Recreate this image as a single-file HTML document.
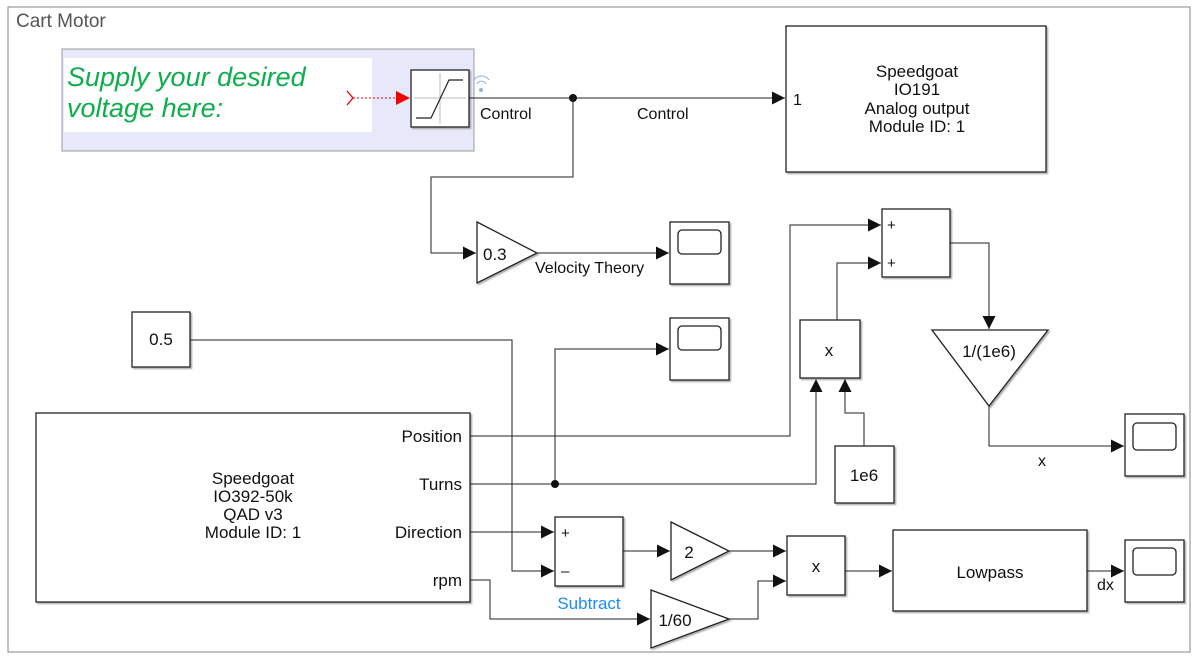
<!DOCTYPE html>
<html><head><meta charset="utf-8"><style>
html,body{margin:0;padding:0;background:#fff;}
svg{display:block;font-family:"Liberation Sans",Arial,sans-serif;}
.b{fill:#fff;stroke:#222;stroke-width:1.3;filter:url(#sh);}
.w{fill:none;stroke:#222;stroke-width:1;}
text{fill:#111;}
</style></head><body>
<svg width="1196" height="656" viewBox="0 0 1196 656" xmlns="http://www.w3.org/2000/svg">
<defs>
<filter id="sh" x="-10%" y="-10%" width="130%" height="130%"><feDropShadow dx="1.5" dy="1.5" stdDeviation="0.8" flood-color="#888" flood-opacity="0.7"/></filter>
<marker id="a" viewBox="0 0 10 10" refX="10" refY="5" markerWidth="13" markerHeight="13" markerUnits="userSpaceOnUse" orient="auto"><path d="M0,0L10,5L0,10z" fill="#111"/></marker>
</defs>
<rect x="8" y="7" width="1182" height="645" fill="#fff" stroke="#999" stroke-width="1.2"/>
<text x="16" y="27" font-size="19" style="fill:#555">Cart Motor</text>

<rect x="62" y="49" width="412" height="102" fill="#e8e8fb" stroke="#aaa" stroke-width="1.2"/>
<rect x="64" y="58" width="308" height="74" fill="#fff"/>
<text x="67" y="86" font-size="27" font-style="italic" style="fill:#0fae4c">Supply your desired</text>
<text x="67" y="117" font-size="27" font-style="italic" style="fill:#0fae4c">voltage here:</text>
<path d="M347,91 L353,98 L347,105" fill="none" stroke="#e00" stroke-width="1.3"/>
<line x1="353" y1="98" x2="396" y2="98" stroke="#e00" stroke-dasharray="2,2"/>
<path d="M396,91 L410,98 L396,105z" fill="#e00"/>
<rect class="b" x="411" y="70" width="58" height="57"/>
<line x1="414" y1="98" x2="466" y2="98" stroke="#bbb"/>
<line x1="440" y1="73" x2="440" y2="124" stroke="#bbb"/>
<path d="M416,118 L431,118 L449,80 L463,80" fill="none" stroke="#222" stroke-width="1.2"/>
<circle cx="481" cy="90" r="2" fill="#8ab4e0"/>
<path d="M477,84 A5,5 0 0 1 486,84 M474,80 A9,9 0 0 1 489,80" fill="none" stroke="#8ab4e0"/>

<line class="w" x1="469" y1="98" x2="785" y2="98" marker-end="url(#a)"/>
<circle cx="573" cy="98" r="4" fill="#111"/>
<text x="480" y="119" font-size="16">Control</text>
<text x="637" y="119" font-size="16">Control</text>
<rect class="b" x="786" y="26" width="260" height="146"/>
<text x="793" y="105" font-size="16">1</text>
<g font-size="17" text-anchor="middle"><text x="917" y="77">Speedgoat</text><text x="917" y="95">IO191</text><text x="917" y="114">Analog output</text><text x="917" y="132">Module ID: 1</text></g>

<polyline class="w" points="573,98 573,177 431,177 431,253 476,253" marker-end="url(#a)"/>
<polygon class="b" points="477,222 537,253 477,283"/>
<text x="483" y="260" font-size="17">0.3</text>
<line class="w" x1="537" y1="253" x2="669" y2="253" marker-end="url(#a)"/>
<text x="535" y="273" font-size="16">Velocity Theory</text>
<rect class="b" x="670" y="222" width="59" height="62"/>
<rect x="678" y="230" width="43" height="24" rx="4" fill="none" stroke="#222" stroke-width="1.3"/>

<rect class="b" x="132" y="312" width="58" height="55"/>
<text x="161" y="345" font-size="17" text-anchor="middle">0.5</text>
<polyline class="w" points="190,340 512,340 512,571 554,571" marker-end="url(#a)"/>

<rect class="b" x="670" y="318" width="59" height="62"/>
<rect x="678" y="326" width="43" height="24" rx="4" fill="none" stroke="#222" stroke-width="1.3"/>
<polyline class="w" points="555,484 555,349 669,349" marker-end="url(#a)"/>

<rect class="b" x="36" y="413" width="434" height="189"/>
<g font-size="17" text-anchor="middle"><text x="253" y="484">Speedgoat</text><text x="253" y="502">IO392-50k</text><text x="253" y="520">QAD v3</text><text x="253" y="538">Module ID: 1</text></g>
<g font-size="17" text-anchor="end"><text x="462" y="442">Position</text><text x="462" y="490">Turns</text><text x="462" y="538">Direction</text><text x="462" y="586">rpm</text></g>

<polyline class="w" points="470,436 790,436 790,225 881,225" marker-end="url(#a)"/>
<polyline class="w" points="470,484 816,484 816,379" marker-end="url(#a)"/>
<circle cx="555" cy="484" r="4" fill="#111"/>
<rect class="b" x="800" y="320" width="60" height="58"/>
<text x="829" y="356" font-size="17" text-anchor="middle">x</text>
<rect class="b" x="835" y="446" width="59" height="57"/>
<text x="864" y="481" font-size="17" text-anchor="middle">1e6</text>
<polyline class="w" points="864,446 864,413 845,413 845,379" marker-end="url(#a)"/>
<polyline class="w" points="837,320 837,263 881,263" marker-end="url(#a)"/>
<rect class="b" x="882" y="209" width="68" height="68"/>
<text x="887" y="230" font-size="15">+</text><text x="887" y="268" font-size="15">+</text>
<polyline class="w" points="950,243 989,243 989,329" marker-end="url(#a)"/>
<polygon class="b" points="932,330 1048,330 989,406"/>
<text x="989" y="357" font-size="17" text-anchor="middle">1/(1e6)</text>
<polyline class="w" points="989,406 989,446 1124,446" marker-end="url(#a)"/>
<text x="1042" y="466" font-size="16" text-anchor="middle">x</text>
<rect class="b" x="1125" y="414" width="59" height="62"/>
<rect x="1133" y="423" width="43" height="27" rx="4" fill="none" stroke="#222" stroke-width="1.3"/>

<line class="w" x1="470" y1="532" x2="554" y2="532" marker-end="url(#a)"/>
<polyline class="w" points="470,580 490,580 490,619 650,619" marker-end="url(#a)"/>
<rect class="b" x="555" y="517" width="68" height="69"/>
<text x="561" y="538" font-size="15">+</text><text x="561" y="576" font-size="15">–</text>
<text x="589" y="609" font-size="17" text-anchor="middle" style="fill:#1a8cff">Subtract</text>
<line class="w" x1="623" y1="551" x2="670" y2="551" marker-end="url(#a)"/>
<polygon class="b" points="671,522 729,551 671,580"/>
<text x="689" y="558" font-size="17" text-anchor="middle">2</text>
<polygon class="b" points="651,590 729,619 651,648"/>
<text x="675" y="626" font-size="17" text-anchor="middle">1/60</text>
<line class="w" x1="729" y1="551" x2="786" y2="551" marker-end="url(#a)"/>
<polyline class="w" points="729,619 758,619 758,581 786,581" marker-end="url(#a)"/>
<rect class="b" x="787" y="536" width="58" height="59"/>
<text x="816" y="572" font-size="17" text-anchor="middle">x</text>
<line class="w" x1="845" y1="571" x2="892" y2="571" marker-end="url(#a)"/>
<rect class="b" x="893" y="530" width="194" height="81"/>
<text x="990" y="578" font-size="17" text-anchor="middle">Lowpass</text>
<line class="w" x1="1087" y1="571" x2="1124" y2="571" marker-end="url(#a)"/>
<text x="1097" y="590" font-size="16">dx</text>
<rect class="b" x="1125" y="540" width="59" height="62"/>
<rect x="1133" y="548" width="43" height="27" rx="4" fill="none" stroke="#222" stroke-width="1.3"/>
</svg>
</body></html>
